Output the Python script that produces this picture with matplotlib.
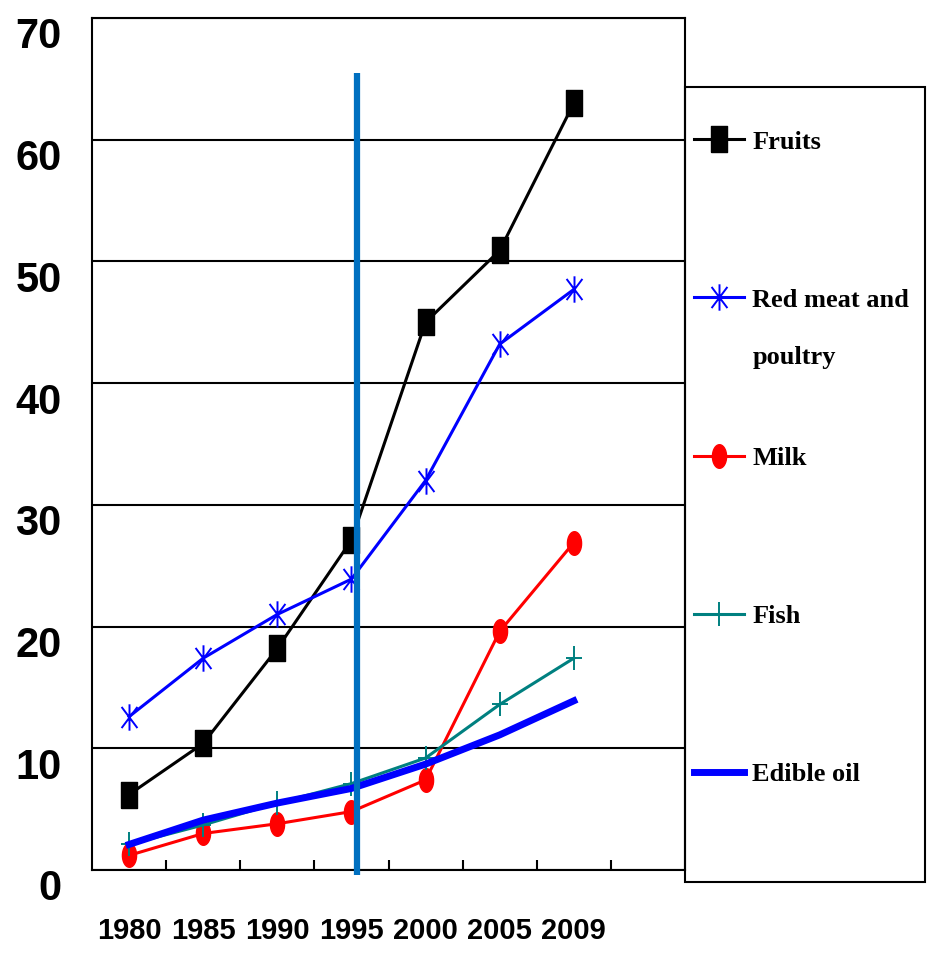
import numpy as np
import matplotlib.pyplot as plt
from matplotlib.patches import Rectangle
from matplotlib.path import Path
from matplotlib.transforms import ScaledTranslation

# per capita consumption by year
years = ['1980', '1985', '1990', '1995', '2000', '2005', '2009']
fruits = [6.2, 10.4, 18.2, 27.1, 45.0, 50.9, 63.0]
red_meat = [12.6, 17.4, 21.0, 23.9, 32.0, 43.2, 47.7]
milk = [1.2, 3.0, 3.8, 4.8, 7.4, 19.6, 26.9]
fish = [2.1, 3.7, 5.5, 7.1, 9.2, 13.6, 17.4]
edible_oil = [2.1, 4.1, 5.5, 6.7, 8.7, 11.1, 13.9]
y_ticks = [0, 10, 20, 30, 40, 50, 60, 70]

sans = ['Liberation Sans', 'DejaVu Sans']
serif = ['Liberation Serif', 'DejaVu Serif']

# narrow marker shapes
tall_square = [(-0.3, -0.5), (0.3, -0.5), (0.3, 0.5), (-0.3, 0.5), (-0.3, -0.5)]
t = np.linspace(0, 2 * np.pi, 40)
tall_dot = list(zip(0.3 * np.cos(t), 0.5 * np.sin(t)))
star = Path([(0, -0.5), (0, 0.5), (-0.3, -0.4), (0.3, 0.4), (-0.3, 0.4), (0.3, -0.4)],
            [Path.MOVETO, Path.LINETO, Path.MOVETO, Path.LINETO, Path.MOVETO, Path.LINETO])
cross = Path([(0, -0.5), (0, 0.5), (-0.33, 0), (0.33, 0)],
             [Path.MOVETO, Path.LINETO, Path.MOVETO, Path.LINETO])

fig = plt.figure(figsize=(9.3, 9.56), dpi=100)
ax = fig.add_axes([92 / 930, 1 - 870 / 956, 593 / 930, 852 / 956])

x = np.arange(len(years))
ax.plot(x, fruits, color='black', lw=2.2, marker=tall_square, ms=19, label='Fruits')
ax.plot(x, red_meat, color='blue', lw=2.2, marker=star, ms=19, mew=1.4, mec='blue',
        mfc='none', label='Red meat and')
ax.plot(x, milk, color='red', lw=2.2, marker=tall_dot, ms=17, label='Milk')
ax.plot(x, fish, color='#008080', lw=2.2, marker=cross, ms=17, mew=1.4, mec='#008080',
        label='Fish')
ax.plot(x, edible_oil, color='blue', lw=5, solid_capstyle='projecting', label='Edible oil')

# marker line at 1995
ax.vlines(3.07, -0.4, 65.5, colors='#0070C0', lw=4.5, clip_on=False, zorder=5)

ax.set_xlim(-0.5, 7.5)
ax.set_ylim(0, 70)
ax.set_xticks(x)
ax.set_xticklabels(years, fontfamily=sans, fontweight='bold', fontsize=21)
ax.set_xticks(np.arange(0.5, 7.5, 1), minor=True)
ax.tick_params(axis='x', which='major', length=0, pad=34)
ax.tick_params(axis='x', which='minor', direction='in', length=7, width=1.5)
ax.set_yticks(y_ticks)
ax.set_yticklabels([str(v) for v in y_ticks], fontfamily=sans, fontweight='bold', fontsize=30)
ax.tick_params(axis='y', length=0, pad=22)
for lab in ax.get_yticklabels():
    lab.set_transform(lab.get_transform() + ScaledTranslation(0, -0.15, fig.dpi_scale_trans))

ax.yaxis.grid(True, color='black', lw=1.5)
ax.set_axisbelow(True)
for s in ax.spines.values():
    s.set_linewidth(1.5)

leg = ax.legend(loc='upper left', bbox_to_anchor=(681 / 930, 1 - 117 / 956),
                bbox_transform=fig.transFigure, frameon=False,
                prop={'family': serif, 'weight': 'bold', 'size': 19},
                handlelength=1.9, handletextpad=0.3, labelspacing=5.1, borderpad=0)
ax.annotate('poultry', xy=(0, 0), xycoords=leg.get_texts()[1], xytext=(0, -41),
            textcoords='offset points', va='bottom', ha='left', annotation_clip=False,
            fontfamily=serif, fontweight='bold', fontsize=19, zorder=10)

fig.add_artist(Rectangle((685 / 930, 1 - 882 / 956), 240 / 930, 795 / 956,
                         transform=fig.transFigure, fill=False, ec='black', lw=1.5))

fig.savefig('out.png', dpi=100)
